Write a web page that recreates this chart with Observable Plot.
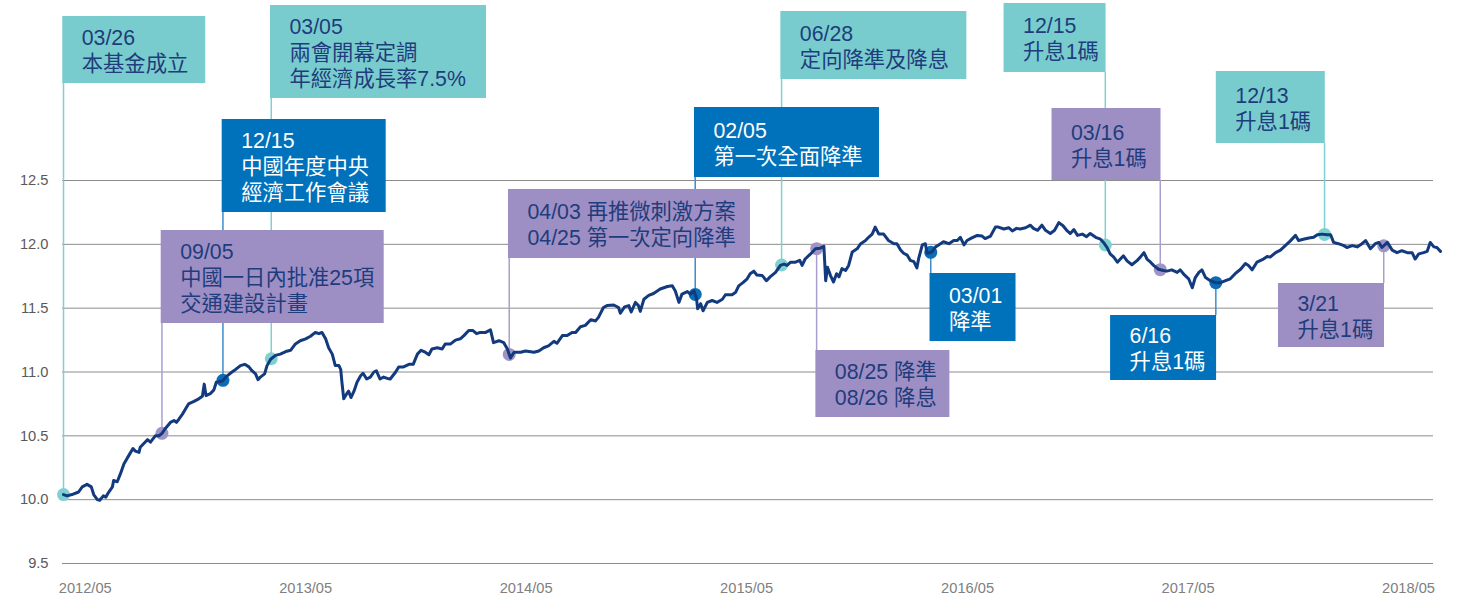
<!DOCTYPE html>
<html>
<head>
<meta charset="utf-8">
<script src="https://cdn.jsdelivr.net/npm/d3@7"></script>
<script src="https://cdn.jsdelivr.net/npm/@observablehq/plot@0.6"></script>
<style>
  html, body { margin: 0; padding: 0; background: #ffffff; }
  #chart { width: 1463px; height: 600px; }
</style>
</head>
<body>
<div id="chart"></div>
<script>
// ---------------- DATA ----------------
const navDates = [
"2012-03-26","2012-04-01","2012-04-09","2012-04-20","2012-04-26","2012-05-04","2012-05-11","2012-05-15","2012-05-21","2012-05-25",
"2012-05-31","2012-06-04","2012-06-09","2012-06-15","2012-06-17","2012-06-23","2012-06-28","2012-07-04","2012-07-12","2012-07-19",
"2012-07-23","2012-07-29","2012-07-31","2012-08-06","2012-08-12","2012-08-17","2012-08-25","2012-08-31","2012-09-05","2012-09-11",
"2012-09-19","2012-09-25","2012-09-29","2012-10-03","2012-10-09","2012-10-14","2012-10-19","2012-10-28","2012-11-05","2012-11-11",
"2012-11-14","2012-11-17","2012-11-24","2012-11-30","2012-12-04","2012-12-14","2012-12-22","2012-12-30","2013-01-05","2013-01-13",
"2013-01-20","2013-01-27","2013-02-01","2013-02-07","2013-02-11","2013-02-15","2013-02-22","2013-02-26","2013-03-04","2013-03-12",
"2013-03-20","2013-03-29","2013-04-06","2013-04-14","2013-04-22","2013-05-01","2013-05-09","2013-05-17","2013-05-23","2013-05-28",
"2013-06-03","2013-06-08","2013-06-14","2013-06-19","2013-06-25","2013-06-28","2013-06-30","2013-07-03","2013-07-08","2013-07-11",
"2013-07-15","2013-07-20","2013-07-25","2013-07-31","2013-08-04","2013-08-10","2013-08-16","2013-08-22","2013-08-26","2013-09-01",
"2013-09-07","2013-09-13","2013-09-18","2013-09-27","2013-10-02","2013-10-10","2013-10-19","2013-10-26","2013-11-02","2013-11-08",
"2013-11-15","2013-11-21","2013-11-26","2013-12-05","2013-12-13","2013-12-18","2013-12-27","2014-01-04","2014-01-12","2014-01-18",
"2014-01-26","2014-02-02","2014-02-08","2014-02-14","2014-02-23","2014-03-03","2014-03-08","2014-03-17","2014-03-25","2014-03-31",
"2014-04-05","2014-04-11","2014-04-22","2014-04-30","2014-05-14","2014-05-22","2014-05-30","2014-06-07","2014-06-16","2014-06-21",
"2014-06-30","2014-07-08","2014-07-16","2014-07-22","2014-07-30","2014-08-07","2014-08-16","2014-08-24","2014-08-29","2014-09-06",
"2014-09-12","2014-09-23","2014-10-01","2014-10-04","2014-10-11","2014-10-18","2014-10-22","2014-10-29","2014-11-03","2014-11-06",
"2014-11-12","2014-11-20","2014-11-28","2014-12-09","2014-12-21","2014-12-29","2015-01-03","2015-01-09","2015-01-14","2015-01-23",
"2015-01-28","2015-02-03","2015-02-07","2015-02-09","2015-02-14","2015-02-18","2015-02-25","2015-03-05","2015-03-13","2015-03-22",
"2015-03-27","2015-04-07","2015-04-13","2015-04-18","2015-04-25","2015-05-02","2015-05-07","2015-05-13","2015-05-18","2015-05-27",
"2015-06-03","2015-06-09","2015-06-18","2015-06-26","2015-07-02","2015-07-07","2015-07-13","2015-07-21","2015-07-28","2015-08-01",
"2015-08-06","2015-08-15","2015-08-23","2015-08-31","2015-09-06","2015-09-09","2015-09-12","2015-09-17","2015-09-22","2015-09-27",
"2015-10-01","2015-10-06","2015-10-12","2015-10-17","2015-10-23","2015-10-31","2015-11-06","2015-11-14","2015-11-19","2015-11-25",
"2015-11-30","2015-12-06","2015-12-14","2015-12-22","2015-12-31","2016-01-05","2016-01-11","2016-01-16","2016-01-22","2016-01-27",
"2016-02-02","2016-02-07","2016-02-10","2016-02-16","2016-02-21","2016-02-24","2016-03-03","2016-03-09","2016-03-14","2016-03-22",
"2016-03-31","2016-04-08","2016-04-14","2016-04-19","2016-04-25","2016-04-30","2016-05-08","2016-05-17","2016-05-25","2016-05-30",
"2016-06-08","2016-06-16","2016-06-21","2016-06-30","2016-07-08","2016-07-14","2016-07-21","2016-07-27","2016-08-05","2016-08-13",
"2016-08-18","2016-08-25","2016-09-01","2016-09-07","2016-09-15","2016-09-22","2016-09-29","2016-10-06","2016-10-13","2016-10-18",
"2016-10-24","2016-10-30","2016-11-07","2016-11-14","2016-11-20","2016-11-29","2016-12-07","2016-12-12","2016-12-18","2016-12-23",
"2016-12-29","2017-01-04","2017-01-09","2017-01-14","2017-01-20","2017-01-28","2017-02-05","2017-02-11","2017-02-17","2017-02-22",
"2017-02-28","2017-03-05","2017-03-13","2017-03-21","2017-03-27","2017-04-04","2017-04-13","2017-04-18","2017-04-25","2017-05-02",
"2017-05-08","2017-05-13","2017-05-19","2017-05-24","2017-05-30","2017-06-07","2017-06-15","2017-06-24","2017-07-02","2017-07-10",
"2017-07-18","2017-07-27","2017-08-04","2017-08-09","2017-08-15","2017-08-23","2017-09-01","2017-09-09","2017-09-14","2017-09-23",
"2017-10-01","2017-10-09","2017-10-17","2017-10-26","2017-10-31","2017-11-08","2017-11-17","2017-11-25","2017-12-01","2017-12-09",
"2017-12-17","2017-12-23","2017-12-28","2018-01-05","2018-01-14","2018-01-19","2018-01-28","2018-02-05","2018-02-13","2018-02-19",
"2018-02-27","2018-03-07","2018-03-13","2018-03-18","2018-03-27","2018-04-04","2018-04-12","2018-04-20","2018-04-29","2018-05-07",
"2018-05-12","2018-05-18","2018-05-26","2018-06-01","2018-06-06","2018-06-12","2018-06-17","2018-06-23"
];
const navValues = [
10.04,10.03,10.04,10.06,10.10,10.12,10.10,10.04,10.00,9.995,
10.03,10.02,10.06,10.10,10.15,10.14,10.20,10.28,10.345,10.40,
10.38,10.37,10.41,10.44,10.47,10.45,10.50,10.50,10.52,10.56,
10.605,10.62,10.605,10.63,10.67,10.71,10.75,10.77,10.79,10.81,
10.905,10.815,10.83,10.86,10.92,10.93,10.97,11.00,11.02,11.05,
11.06,11.04,11.01,10.985,10.94,10.96,10.985,11.05,11.10,11.13,
11.14,11.16,11.17,11.22,11.245,11.26,11.28,11.31,11.30,11.31,
11.26,11.19,11.14,11.05,11.05,11.02,10.92,10.79,10.83,10.85,
10.80,10.85,10.92,10.97,10.99,10.945,10.96,11.00,11.01,10.945,
10.96,10.95,10.945,11.00,11.04,11.04,11.06,11.06,11.14,11.17,
11.155,11.135,11.18,11.19,11.18,11.22,11.22,11.25,11.26,11.285,
11.325,11.325,11.30,11.31,11.31,11.33,11.23,11.245,11.23,11.18,
11.11,11.155,11.155,11.165,11.155,11.165,11.19,11.205,11.24,11.225,
11.285,11.285,11.31,11.31,11.355,11.365,11.41,11.40,11.43,11.505,
11.52,11.525,11.505,11.46,11.51,11.52,11.47,11.545,11.52,11.475,
11.57,11.60,11.615,11.65,11.67,11.675,11.635,11.545,11.61,11.63,
11.61,11.635,11.58,11.495,11.535,11.48,11.545,11.56,11.545,11.57,
11.605,11.605,11.625,11.675,11.70,11.73,11.77,11.79,11.76,11.755,
11.715,11.745,11.78,11.835,11.845,11.835,11.86,11.86,11.875,11.835,
11.885,11.925,11.965,11.97,11.985,11.715,11.82,11.755,11.705,11.77,
11.745,11.81,11.795,11.835,11.94,11.965,12.005,12.03,12.055,12.08,
12.135,12.08,12.08,12.03,12.005,12.005,11.955,11.93,11.915,11.875,
11.865,11.815,11.89,11.995,12.005,11.93,11.94,11.98,11.995,12.02,
12.005,12.03,12.03,12.055,11.995,12.03,12.05,12.07,12.065,12.045,
12.065,12.135,12.135,12.12,12.13,12.105,12.125,12.12,12.13,12.15,
12.125,12.11,12.15,12.11,12.085,12.11,12.17,12.145,12.105,12.085,
12.115,12.07,12.08,12.06,12.085,12.055,12.04,12.015,11.975,11.925,
11.90,11.86,11.885,11.91,11.87,11.84,11.87,11.90,11.935,11.885,
11.86,11.835,11.805,11.795,11.79,11.80,11.78,11.80,11.76,11.73,
11.66,11.74,11.78,11.80,11.74,11.715,11.70,11.70,11.715,11.73,
11.77,11.805,11.85,11.835,11.80,11.86,11.88,11.905,11.90,11.935,
11.955,11.99,12.025,12.07,12.03,12.04,12.05,12.055,12.075,12.08,
12.075,12.075,12.015,12.005,11.99,11.975,11.99,11.98,12.005,12.03,
11.965,12.005,12.015,11.975,12.015,11.955,11.935,11.95,11.935,11.935,
11.885,11.925,11.935,11.945,12.015,11.98,11.975,11.945
];

const yTicks = [9.5, 10.0, 10.5, 11.0, 11.5, 12.0, 12.5];
const xTickDates = ["2012-05-01","2013-05-01","2014-05-01","2015-05-01","2016-05-01","2017-05-01","2018-05-01"];
const xTickLabels = ["2012/05","2013/05","2014/05","2015/05","2016/05","2017/05","2018/05"];

const eventDates = ["2012-03-26","2012-09-05","2012-12-15","2013-03-05","2014-04-03","2015-02-05","2015-06-28",
                    "2015-08-25","2016-03-01","2016-12-15","2017-03-16","2017-06-16","2017-12-13","2018-03-21"];
const eventTexts = [
  "03/26\n本基金成立",
  "09/05\n中國一日內批准25項\n交通建設計畫",
  "12/15\n中國年度中央\n經濟工作會議",
  "03/05\n兩會開幕定調\n年經濟成長率7.5%",
  "04/03 再推微刺激方案\n04/25 第一次定向降準",
  "02/05\n第一次全面降準",
  "06/28\n定向降準及降息",
  "08/25 降準\n08/26 降息",
  "03/01\n降準",
  "12/15\n升息1碼",
  "03/16\n升息1碼",
  "6/16\n升息1碼",
  "12/13\n升息1碼",
  "3/21\n升息1碼"
];
const eventKinds = ["teal","purple","blue","teal","purple","blue","teal","purple","blue","teal","purple","blue","teal","purple"];

// ---------------- LAYOUT & STYLE ----------------
const W = 1463, H = 600;
const margin = {top: 180, right: 30, bottom: 37, left: 62};
const xRange = [63, 1440];
const yRange = [H - margin.bottom, margin.top];
const boxLayout = [
  {top: 16,  bottom: 83,  width: 143, anchor: "start"},
  {top: 230, bottom: 323, width: 223, anchor: "start"},
  {top: 119, bottom: 212, width: 164, anchor: "start"},
  {top: 5,   bottom: 98,  width: 216, anchor: "start"},
  {top: 189, bottom: 258, width: 242, anchor: "start"},
  {top: 107, bottom: 177, width: 185, anchor: "start"},
  {top: 11,  bottom: 79,  width: 186, anchor: "start"},
  {top: 350, bottom: 417, width: 134, anchor: "start"},
  {top: 273, bottom: 341, width: 86,  anchor: "start"},
  {top: 3,   bottom: 72,  width: 102, anchor: "end"},
  {top: 108, bottom: 180, width: 109, anchor: "end"},
  {top: 315, bottom: 380, width: 106, anchor: "end"},
  {top: 71,  bottom: 143, width: 109, anchor: "end"},
  {top: 283, bottom: 347, width: 106, anchor: "end"}
];
const textPad = 19;
const kindFill   = {teal: "#79cccd", purple: "#9d8fc4", blue: "#0071bb"};
const kindLeader = {teal: "#7fd0d2", purple: "#a99fcf", blue: "#3d8ccb"};
const kindDot    = {teal: "#7fd0d0", purple: "#a093c6", blue: "#0a6db5"};
const kindText   = {teal: "#1f3c7c", purple: "#1f3c7c", blue: "#ffffff"};
const fontFamily = "'Liberation Sans', Arial, 'Noto Sans CJK TC', sans-serif";

// ---------------- BUILD ----------------
const nav = navDates.map((d, i) => ({date: new Date(d), value: navValues[i]}));
const xDomain = d3.extent(nav, d => d.date);
const yDomain = [yTicks[0], yTicks[yTicks.length - 1]];
const xs = d3.scaleUtc().domain(xDomain).range(xRange);
const ys = d3.scaleLinear().domain(yDomain).range(yRange);

const bis = d3.bisector(d => d.date).left;
function navAt(date) {
  const i = bis(nav, date);
  if (i <= 0) return nav[0].value;
  if (i >= nav.length) return nav[nav.length - 1].value;
  const a = nav[i - 1], b = nav[i];
  const t = (date - a.date) / (b.date - a.date);
  return a.value + t * (b.value - a.value);
}

const events = eventDates.map((d, i) => {
  const date = new Date(d);
  const L = boxLayout[i];
  const px = xs(date);
  const left = L.anchor === "start" ? px - 0.75 : px + 0.75 - L.width;
  const value = navAt(date);
  const markerPx = ys(value);
  const edgePx = L.top > markerPx ? L.top : L.bottom;
  return {
    date, value, text: eventTexts[i], kind: eventKinds[i],
    bx1: xs.invert(left), bx2: xs.invert(left + L.width),
    by1: ys.invert(L.top), by2: ys.invert(L.bottom),
    tx: xs.invert(left + textPad), ty: ys.invert((L.top + L.bottom) / 2),
    edge: ys.invert(edgePx)
  };
});

const tickLabel = new Map(xTickDates.map((d, i) => [+new Date(d), xTickLabels[i]]));

const chart = Plot.plot({
  width: W, height: H,
  marginTop: margin.top, marginRight: margin.right, marginBottom: margin.bottom, marginLeft: margin.left,
  x: {type: "utc", domain: xDomain, range: xRange},
  y: {domain: yDomain, range: yRange},
  color: {type: "identity"},
  style: {fontFamily, background: "#ffffff", overflow: "visible"},
  marks: [
    Plot.ruleY(yTicks, {stroke: "#8c8c8c", strokeWidth: 1}),
    Plot.axisY(yTicks, {tickSize: 0, tickPadding: 14, tickFormat: d => d.toFixed(1), fontSize: 14.67, color: "#595959", label: null}),
    Plot.axisX(xTickDates.map(d => new Date(d)), {tickSize: 0, tickPadding: 19, tickFormat: d => tickLabel.get(+d), fontSize: 14.67, color: "#808080", label: null}),
    Plot.ruleX(events, {x: "date", y1: "value", y2: "edge", stroke: d => kindLeader[d.kind], strokeWidth: 1.5}),
    Plot.rect(events, {x1: "bx1", x2: "bx2", y1: "by1", y2: "by2", fill: d => kindFill[d.kind]}),
    Plot.text(events, {x: "tx", y: "ty", text: "text", textAnchor: "start", lineAnchor: "middle",
      lineHeight: 1.22, fontSize: 21.3, fill: d => kindText[d.kind]}),
    Plot.dot(events, {x: "date", y: "value", r: 6.5, fill: d => kindDot[d.kind]}),
    Plot.line(nav, {x: "date", y: "value", stroke: "#133a7e", strokeWidth: 3, strokeLinejoin: "round", strokeLinecap: "round"})
  ]
});
document.getElementById("chart").appendChild(chart);
</script>
</body>
</html>
